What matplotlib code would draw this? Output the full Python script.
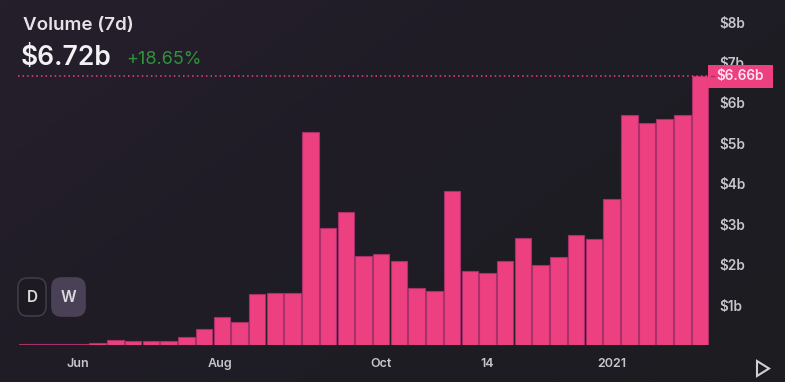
import matplotlib
matplotlib.use('Agg')
import matplotlib.pyplot as plt
import matplotlib.transforms as mtransforms
import numpy as np
from matplotlib.patches import FancyBboxPatch, Polygon, Rectangle
from matplotlib.colors import LinearSegmentedColormap

# weekly volume, billions of USD
volume = [0.03, 0.03, 0.03, 0.03, 0.06, 0.14, 0.11, 0.11, 0.11, 0.22,
          0.41, 0.70, 0.59, 1.27, 1.29, 1.29, 5.27, 2.90, 3.31, 2.21,
          2.25, 2.09, 1.41, 1.35, 3.81, 1.83, 1.78, 2.10, 2.66, 1.98,
          2.20, 2.73, 2.63, 3.62, 5.70, 5.50, 5.60, 5.70, 6.66]
x_tick_pos = [2.9, 10.9, 20.0, 26.0, 33.0]
x_tick_labels = ['Jun', 'Aug', 'Oct', '14', '2021']
y_ticks = [1, 2, 3, 4, 5, 6, 7, 8]
y_tick_labels = [r'\$%db' % v for v in y_ticks]
last_value = 6.66
title = 'Volume (7d)'
headline = r'\$6.72b'
change = '+18.65%'

pink = '#ec4080'
edge = '#a9306a'
tick_color = '#c6c5cc'

plt.rcParams['font.family'] = ['Inter', 'DejaVu Sans']

fig = plt.figure(figsize=(7.85, 3.82), dpi=100)

# background gradient
bg = fig.add_axes([0, 0, 1, 1], zorder=-10)
gy, gx = np.mgrid[0:1:200j, 0:1:200j]
grad = (gx * 0.6 + gy * 0.4)
cmap = LinearSegmentedColormap.from_list('bg', ['#251f2c', '#1f1c25', '#1c1c21'])
bg.imshow(grad, cmap=cmap, aspect='auto', extent=[0, 1, 0, 1], origin='upper')
bg.set_axis_off()

ax = fig.add_axes([18 / 785, 0.0958, 691 / 785, 0.899])
ax.patch.set_alpha(0)
x = np.arange(len(volume))
ax.bar(x, volume, width=0.93, color=pink, edgecolor=edge, linewidth=0.8)
ax.set_xlim(-0.5, len(volume) - 0.5)
ax.set_ylim(0, 8.5)

ax.axhline(last_value, color=pink, linestyle=(0, (1, 2)), linewidth=1.1, zorder=1)

for s in ax.spines.values():
    s.set_visible(False)
ax.yaxis.tick_right()
ax.set_yticks(y_ticks)
ax.set_yticklabels(y_tick_labels)
ax.set_xticks(x_tick_pos)
ax.set_xticklabels(x_tick_labels)
ax.tick_params(axis='y', length=0, pad=7.5, labelsize=9.8, labelcolor=tick_color)
ax.tick_params(axis='x', length=0, pad=9, labelsize=9, labelcolor=tick_color)
for lab in ax.get_xticklabels() + ax.get_yticklabels():
    lab.set_fontweight('semibold')

# last value tag on the right axis
blend = mtransforms.blended_transform_factory(ax.transAxes, ax.transData)
tag = Rectangle((0.999, last_value - 0.285), 0.093, 0.57, transform=blend,
                fc=pink, ec='none', clip_on=False, zorder=9)
ax.add_patch(tag)
ax.plot([1.003, 1.007], [last_value, last_value], transform=blend, color='#b02d62',
        lw=1, clip_on=False, zorder=10)
ax.annotate(r'\$6.66b', xy=(1, last_value), xycoords=('axes fraction', 'data'),
            xytext=(5, 0), textcoords='offset points', va='center', ha='left',
            fontsize=9.8, fontweight='semibold', color='#fde4ef', zorder=11,
            annotation_clip=False)

# header
fig.text(23 / 785, 1 - 25 / 382, title, fontsize=13.5, fontweight='semibold',
         color='#e6e3e8', va='center', ha='left')
fig.text(21 / 785, 1 - 58 / 382, headline, fontsize=19, fontweight='semibold',
         color='#f2f1f4', va='center', ha='left')
fig.text(126 / 785, 1 - 60 / 382, change, fontsize=13, color='#2f9339',
         va='center', ha='left')

# D / W buttons
def button(x0, x1, label, fc, ec):
    w = (x1 - x0) / 785
    h = 38 / 382
    p = FancyBboxPatch((x0 / 785, 1 - 316 / 382), w, h,
                       boxstyle='round,pad=0,rounding_size=0.012',
                       transform=fig.transFigure, fc=fc, ec=ec, lw=1.2,
                       mutation_aspect=785 / 382)
    fig.patches.append(p)
    fig.text((x0 + x1) / 2 / 785, 1 - 297 / 382, label, fontsize=11,
             fontweight='semibold', color='#dcdadf', ha='center', va='center')

button(18, 46, 'D', '#1d1a22', '#413a48')
button(52, 85, 'W', '#4b4156', '#4b4156')

# play icon
tri = Polygon([(757 / 785, 1 - 361 / 382), (757 / 785, 1 - 376 / 382),
               (769 / 785, 1 - 368.5 / 382)], closed=True, fill=False,
              ec='#cfcfd4', lw=1.5, transform=fig.transFigure)
fig.patches.append(tri)

fig.savefig('out.png', dpi=100, facecolor='#201d26')
